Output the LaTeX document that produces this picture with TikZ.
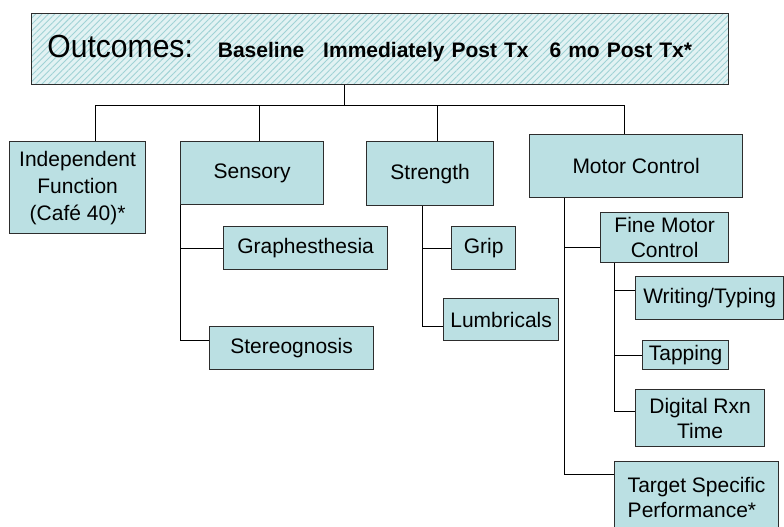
\documentclass[tikz,border=0pt]{standalone}
\usepackage{fontspec}
\setmainfont{Liberation Sans}
\newfontface\outcomesfont[FakeStretch=0.94]{Liberation Sans}
\usepackage{tikz}
\usetikzlibrary{patterns.meta}
\definecolor{boxfill}{RGB}{187,224,227}
\definecolor{hatchcol}{RGB}{160,210,213}
\definecolor{hatchbg}{RGB}{226,242,243}
\definecolor{edgecol}{RGB}{45,45,45}

\begin{document}
\begin{tikzpicture}[x=1pt,y=-1pt,
    box/.style={draw=edgecol,line width=1.2pt,fill=boxfill,anchor=north west,
        align=center,inner sep=1pt,font=\fontsize{21}{25}\selectfont},
    link/.style={draw=black,line width=1pt}]
    \useasboundingbox (0,0) rectangle (784,527);
    % top box
    \fill[hatchbg] (31,13) rectangle (728,84);
    \node[draw=edgecol,line width=1.2pt,anchor=north west,minimum width=697pt,minimum height=71pt,
        text width=665pt,inner xsep=16pt,align=left,font=\fontsize{21}{25}\selectfont,
        pattern={Lines[angle=45,distance=4.5pt,line width=0.9pt]},pattern color=hatchcol]
        (outcomes) at (31,13) {{\outcomesfont\fontsize{32}{32}\selectfont Outcomes:}\hspace{25pt}\textbf{Baseline}\hspace{19pt}\textbf{Immediately Post Tx}\hspace{21pt}\textbf{6 mo Post Tx*}};
    % first level
    \node[box,minimum width=136pt,minimum height=92pt] (indep) at (9,141) {Independent\\[2pt]Function\\[2pt](Café 40)*};
    \node[box,minimum width=143pt,minimum height=63pt] (sensory) at (180,141) {Sensory};
    \node[box,minimum width=127pt,minimum height=64pt] (strength) at (366,141) {Strength};
    \node[box,minimum width=213pt,minimum height=63pt] (motor) at (529,134) {Motor Control};
    % second level
    \node[box,minimum width=164pt,minimum height=43pt] (graph) at (223,226) {Graphesthesia};
    \node[box,minimum width=164pt,minimum height=43pt] (stereo) at (209,326) {Stereognosis};
    \node[box,minimum width=64pt,minimum height=43pt] (grip) at (451,226) {Grip};
    \node[box,minimum width=115pt,minimum height=42pt] (lumb) at (443,298) {Lumbricals};
    \node[box,minimum width=128pt,minimum height=50pt] (fine) at (600,212) {Fine Motor\\Control};
    \node[box,minimum width=164pt,minimum height=72pt,align=left] (target) at (614,461) {Target Specific\\Performance*};
    % third level
    \node[box,minimum width=148pt,minimum height=43pt] (writing) at (635,276) {Writing/Typing};
    \node[box,minimum width=86pt,minimum height=29pt] (tapping) at (642,340) {Tapping};
    \node[box,minimum width=129pt,minimum height=57pt] (digital) at (635,389) {Digital Rxn\\Time};

    % bus under the top box
    \coordinate (bus) at (344,105);
    \coordinate (b1) at (95,105);
    \coordinate (b2) at (259,105);
    \coordinate (b3) at (437,105);
    \coordinate (b4) at (624,105);
    \draw[link] (outcomes.south -| bus) -- (bus);
    \draw[link] (b1) -- (b4);
    \draw[link] (b1) -- (b1 |- indep.north);
    \draw[link] (b2) -- (b2 |- sensory.north);
    \draw[link] (b3) -- (b3 |- strength.north);
    \draw[link] (b4) -- (b4 |- motor.north);

    % sensory
    \draw[link] (sensory.south west) |- (graph.west);
    \draw[link] (sensory.south west) |- ([yshift=7.5pt]stereo.west);
    % strength
    \draw[link] ([xshift=56pt]strength.south west) |- (grip.west);
    \draw[link] ([xshift=56pt]strength.south west) |- ([yshift=-7pt]lumb.west);
    % motor control
    \draw[link] ([xshift=35pt]motor.south west) |- ([yshift=-10pt]fine.west);
    \draw[link] ([xshift=35pt]motor.south west) |- ([yshift=23pt]target.west);
    \draw[link] ([xshift=14pt]fine.south west) |- ([yshift=7.5pt]writing.west);
    \draw[link] ([xshift=14pt]fine.south west) |- (tapping.west);
    \draw[link] ([xshift=14pt]fine.south west) |- ([yshift=6.5pt]digital.west);
\end{tikzpicture}
\end{document}
